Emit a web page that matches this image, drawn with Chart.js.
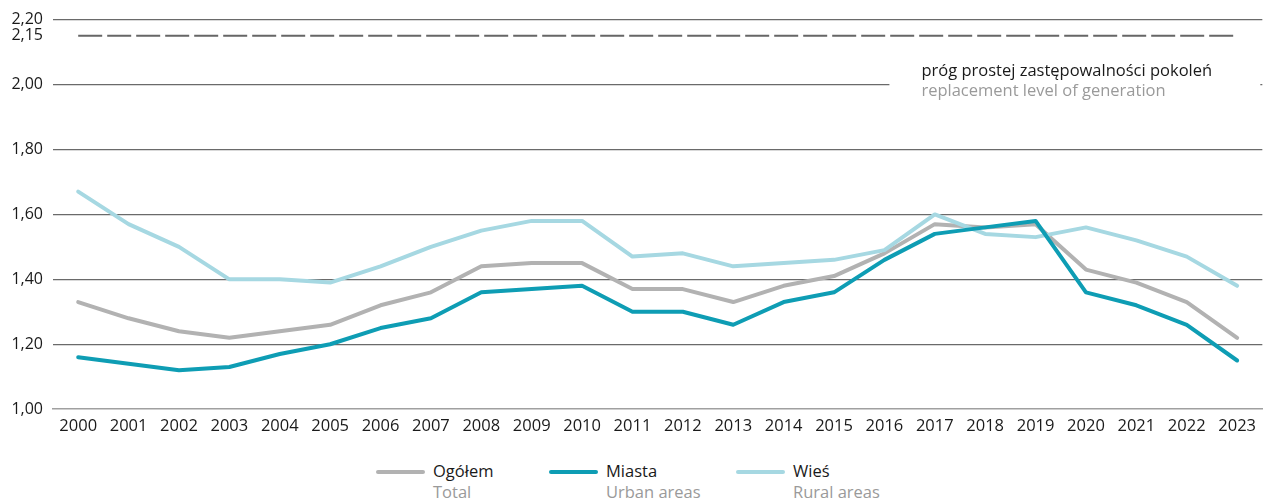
<!DOCTYPE html>
<html lang="pl">
<head>
<meta charset="utf-8">
<title>Współczynnik dzietności</title>
<script src="https://cdn.jsdelivr.net/npm/chart.js@4/dist/chart.umd.min.js"></script>
<style>
  html, body { margin: 0; padding: 0; background: #fff; }
  body { width: 1263px; height: 501px; position: relative; overflow: hidden; font-family: "Open Sans", sans-serif; }
  #chart-wrap { position: absolute; left: 0; top: 0; width: 1263px; height: 443px; }
  .legend { position: absolute; top: 460px; left: 0; width: 1263px; height: 41px; }
  .leg-item { position: absolute; top: 0; }
  .leg-line { position: absolute; top: 10px; width: 49px; height: 4px; border-radius: 2px; }
  .leg-text { position: absolute; left: 57px; top: 0; white-space: nowrap; font-size: 16.5px; line-height: 21px; color: #1a1a1a; }
  .leg-text span { display: block; color: #9a9a9a; }
</style>
</head>
<body>
<div id="chart-wrap"><canvas id="tfr-chart"></canvas></div>
<div class="legend">
  <div class="leg-item" style="left:376px"><div class="leg-line" style="background:#b2b2b2"></div><div class="leg-text">Ogółem<span>Total</span></div></div>
  <div class="leg-item" style="left:549px"><div class="leg-line" style="background:#0e9db4"></div><div class="leg-text">Miasta<span>Urban areas</span></div></div>
  <div class="leg-item" style="left:736px"><div class="leg-line" style="background:#a6d8e2"></div><div class="leg-text">Wieś<span>Rural areas</span></div></div>
</div>
<script>
// ---- Data ----
const years = ['2000','2001','2002','2003','2004','2005','2006','2007','2008','2009','2010','2011',
               '2012','2013','2014','2015','2016','2017','2018','2019','2020','2021','2022','2023'];
const total = [1.33, 1.28, 1.24, 1.22, 1.24, 1.26, 1.32, 1.36, 1.44, 1.45, 1.45, 1.37,
               1.37, 1.33, 1.38, 1.41, 1.48, 1.57, 1.56, 1.57, 1.43, 1.39, 1.33, 1.22];
const urban = [1.16, 1.14, 1.12, 1.13, 1.17, 1.20, 1.25, 1.28, 1.36, 1.37, 1.38, 1.30,
               1.30, 1.26, 1.33, 1.36, 1.46, 1.54, 1.56, 1.58, 1.36, 1.32, 1.26, 1.15];
const rural = [1.67, 1.57, 1.50, 1.40, 1.40, 1.39, 1.44, 1.50, 1.55, 1.58, 1.58, 1.47,
               1.48, 1.44, 1.45, 1.46, 1.49, 1.60, 1.54, 1.53, 1.56, 1.52, 1.47, 1.38];
const replacementLevel = 2.15;
const yTicks = [1.00, 1.20, 1.40, 1.60, 1.80, 2.00, 2.15, 2.20];
const noteLines = ['próg prostej zastępowalności pokoleń', 'replacement level of generation'];

const FONT = '"Open Sans", sans-serif';
const fmt = v => v.toFixed(2).replace('.', ',');

// ---- Annotation box (covers 2,00 gridline on the right) ----
const notePlugin = {
  id: 'note',
  beforeDatasetsDraw(chart) {
    const { ctx, scales: { x, y }, chartArea } = chart;
    const left = x.getPixelForValue(16) + 5;
    const yMid = y.getPixelForValue(2.0);
    ctx.save();
    ctx.fillStyle = '#fff';
    ctx.fillRect(left, yMid - 20, chartArea.right - 2 - left, 38);
    ctx.font = '16.5px ' + FONT;
    ctx.textBaseline = 'middle';
    ctx.fillStyle = '#1a1a1a';
    ctx.fillText(noteLines[0], left + 32, yMid - 13);
    ctx.fillStyle = '#9a9a9a';
    ctx.fillText(noteLines[1], left + 32, yMid + 7);
    ctx.restore();
  }
};

const line = (data, color, order) => ({
  data, borderColor: color, backgroundColor: color,
  borderWidth: 4, pointRadius: 0, tension: 0, order,
  borderJoinStyle: 'round', borderCapStyle: 'round'
});

new Chart(document.getElementById('tfr-chart'), {
  type: 'line',
  data: {
    labels: years,
    datasets: [
      line(total, '#b2b2b2', 3),
      line(rural, '#a6d8e2', 2),
      line(urban, '#0e9db4', 1),
      {
        data: years.map(() => replacementLevel),
        borderColor: '#666', borderWidth: 2, borderDash: [24, 5],
        pointRadius: 0, order: 0, borderCapStyle: 'butt'
      }
    ]
  },
  options: {
    responsive: true,
    maintainAspectRatio: false,
    animation: false,
    layout: { padding: { top: 11, right: 0, left: 0, bottom: 0 } },
    plugins: { legend: { display: false }, tooltip: { enabled: false } },
    scales: {
      x: {
        offset: true,
        grid: { display: false, drawTicks: false },
        border: { display: true, color: '#a0a0a0', width: 1.5 },
        ticks: { color: '#1a1a1a', font: { family: FONT, size: 16.5 }, padding: 7, maxRotation: 0, autoSkip: false }
      },
      y: {
        min: 1.0, max: 2.2,
        afterBuildTicks: axis => { axis.ticks = yTicks.map(v => ({ value: v })); },
        afterFit: axis => { axis.width = 53; },
        grid: {
          drawTicks: false,
          color: c => (c.tick && (Math.abs(c.tick.value - 2.15) < 1e-6 || Math.abs(c.tick.value - 1.0) < 1e-6)) ? 'rgba(0,0,0,0)' : '#6a6a6a',
          lineWidth: 1.2
        },
        border: { display: false },
        ticks: { color: '#1a1a1a', font: { family: FONT, size: 16 }, padding: 10, callback: v => fmt(v) }
      }
    }
  },
  plugins: [notePlugin]
});
</script>
</body>
</html>
